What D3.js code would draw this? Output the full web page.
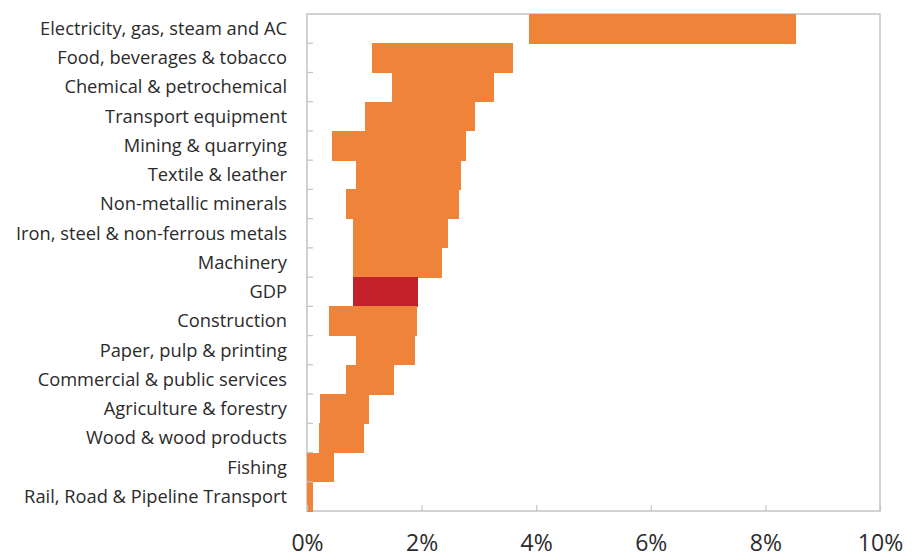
<!DOCTYPE html>
<html>
<head>
<meta charset="utf-8">
<script src="https://cdn.jsdelivr.net/npm/d3@7"></script>
<style>
  body { margin: 0; background: #fff; }
  .chart text { font-family: "Open Sans", "Noto Sans", sans-serif; }
</style>
</head>
<body>
<svg class="chart"></svg>
<script>
// Sector names, top to bottom
var sectors = [
    "Electricity, gas, steam and AC",
    "Food, beverages & tobacco",
    "Chemical & petrochemical",
    "Transport equipment",
    "Mining & quarrying",
    "Textile & leather",
    "Non-metallic minerals",
    "Iron, steel & non-ferrous metals",
    "Machinery",
    "GDP",
    "Construction",
    "Paper, pulp & printing",
    "Commercial & public services",
    "Agriculture & forestry",
    "Wood & wood products",
    "Fishing",
    "Rail, Road & Pipeline Transport"
];

// Range of growth rates (%) per sector
var lowValues  = [3.87, 1.13, 1.48, 1.02, 0.43, 0.85, 0.68, 0.81, 0.80, 0.80, 0.38, 0.85, 0.68, 0.23, 0.21, 0.00, 0.00];
var highValues = [8.54, 3.60, 3.26, 2.93, 2.77, 2.68, 2.65, 2.46, 2.35, 1.93, 1.92, 1.88, 1.51, 1.08, 1.00, 0.47, 0.11];

var xTicks = [0, 2, 4, 6, 8, 10];

var data = sectors.map(function(s, i) {
    return { name: s, low: lowValues[i], high: highValues[i] };
});

var W = 920, H = 559;
var margin = { top: 14, right: 40, bottom: 48, left: 307 },
    width = W - margin.left - margin.right,
    height = H - margin.top - margin.bottom;

var svg = d3.select(".chart")
    .attr("width", W)
    .attr("height", H)
  .append("g")
    .attr("transform", "translate(" + margin.left + "," + margin.top + ")");

var x = d3.scaleLinear()
    .domain([0, 10])
    .range([0, width]);

var y = d3.scaleBand()
    .domain(sectors)
    .range([0, height])
    .padding(0);

// plot frame
svg.append("rect")
    .attr("width", width)
    .attr("height", height)
    .attr("fill", "none")
    .attr("stroke", "#c4c4c4")
    .attr("stroke-width", 1.5);

// bars
svg.selectAll(".bar")
    .data(data)
  .enter().append("rect")
    .attr("class", "bar")
    .attr("x", function(d) { return x(d.low); })
    .attr("width", function(d) { return x(d.high) - x(d.low); })
    .attr("y", function(d) { return y(d.name); })
    .attr("height", y.bandwidth() + 0.5)
    .attr("shape-rendering", "crispEdges")
    .attr("fill", function(d) { return d.name === "GDP" ? "#c2202a" : "#f0833a"; });

// y ticks at band boundaries
svg.selectAll(".ytick")
    .data(sectors.slice(1))
  .enter().append("line")
    .attr("class", "ytick")
    .attr("x1", 0).attr("x2", 6)
    .attr("y1", function(d) { return y(d); })
    .attr("y2", function(d) { return y(d); })
    .attr("stroke", "#c4c4c4")
    .attr("stroke-width", 1.2);

// y labels
svg.selectAll(".ylab")
    .data(sectors)
  .enter().append("text")
    .attr("class", "ylab")
    .attr("x", -20)
    .attr("y", function(d) { return y(d) + y.bandwidth() / 2; })
    .attr("dy", "0.35em")
    .attr("text-anchor", "end")
    .attr("font-size", 18.3)
    .attr("fill", "#2b2b2b")
    .text(function(d) { return d; });

// x axis
var xAxis = svg.append("g")
    .attr("class", "x-axis")
    .attr("transform", "translate(0," + height + ")")
    .call(d3.axisBottom(x).tickValues(xTicks).tickSize(-6).tickPadding(24)
        .tickFormat(function(d) { return d + "%"; }));

xAxis.select(".domain").remove();
xAxis.selectAll(".tick line").attr("stroke", "#c4c4c4").attr("stroke-width", 1.2);
xAxis.selectAll(".tick text")
    .attr("font-size", 23)
    .attr("fill", "#2b2b2b")
    .attr("font-family", "'Open Sans', 'Noto Sans', sans-serif");
</script>
</body>
</html>
